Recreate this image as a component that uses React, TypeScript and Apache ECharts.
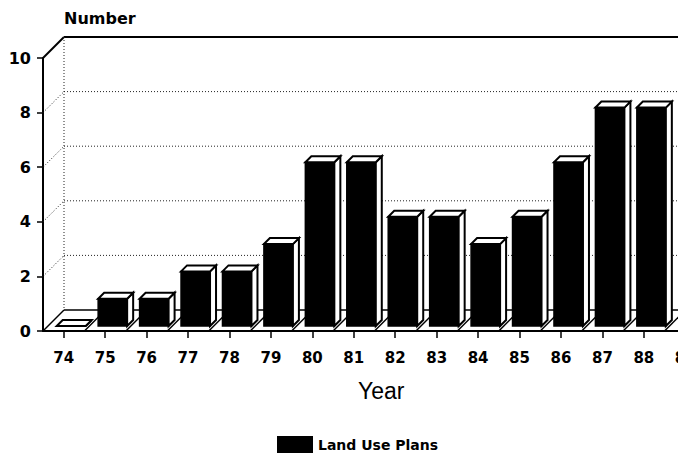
import React, { useEffect, useRef } from "react";
import * as echarts from "echarts";

const years = ["74", "75", "76", "77", "78", "79", "80", "81", "82", "83", "84", "85", "86", "87", "88", "89"];
const landUsePlans: (number | null)[] = [0, 1, 1, 2, 2, 3, 6, 6, 4, 4, 3, 4, 6, 8, 8, null];
const yTicks = [0, 2, 4, 6, 8, 10];
const seriesName = "Land Use Plans";

const DEPTH = 21;

export default function App() {
  const ref = useRef<HTMLDivElement>(null);
  useEffect(() => {
    if (!ref.current) return;
    const chart = echarts.init(ref.current, null, { renderer: "svg" });
    const boldFont = "DejaVu Sans";

    const frameRender = (params: any, api: any) => {
      const band = api.size([1, 0])[0];
      const [c0, y0] = api.coord([0, 0]);
      const xL = c0 - band / 2;
      const xR = api.coord([years.length - 1, 0])[0] + band / 2 + DEPTH + 40;
      const children: any[] = [];
      const dotted = { stroke: "#222", lineWidth: 1, lineDash: [1, 2] };
      const solid = { stroke: "#000", lineWidth: 2 };
      const top = yTicks[yTicks.length - 1];
      yTicks.forEach((v) => {
        const y = api.coord([0, v])[1];
        if (v === 0) return;
        const st = v === top ? solid : dotted;
        children.push({ type: "line", shape: { x1: xL, y1: y, x2: xL + DEPTH, y2: y - DEPTH }, style: st });
        children.push({ type: "line", shape: { x1: xL + DEPTH, y1: y - DEPTH, x2: xR, y2: y - DEPTH }, style: st });
      });
      const yTop = api.coord([0, top])[1];
      children.push({ type: "line", shape: { x1: xL + DEPTH, y1: yTop - DEPTH, x2: xL + DEPTH, y2: y0 - DEPTH }, style: dotted });
      children.push({ type: "line", shape: { x1: xL + DEPTH, y1: y0 - DEPTH, x2: xR, y2: y0 - DEPTH }, style: { stroke: "#000", lineWidth: 1.5 } });
      for (let i = 0; i <= years.length; i++) {
        const bx = xL + i * band;
        children.push({ type: "line", shape: { x1: bx, y1: y0, x2: bx + DEPTH, y2: y0 - DEPTH }, style: { stroke: "#000", lineWidth: 1.5 } });
      }
      return { type: "group", children };
    };

    const barRender = (params: any, api: any) => {
      const v = api.value(1);
      if (v === null || v === undefined || isNaN(v)) return null;
      const idx = api.value(0);
      const [cx, y0] = api.coord([idx, 0]);
      const yt = api.coord([idx, v])[1];
      const L = cx - 7, R = cx + 22, B = y0 - 5, T = yt - 5, d = 6;
      return {
        type: "group",
        children: [
          { type: "polygon", shape: { points: [[L, B], [R, B], [R, T], [L, T]] }, style: { fill: "#000", stroke: "#000", lineWidth: 1.5 } },
          { type: "polygon", shape: { points: [[R, T], [R + d, T - d], [R + d, B - d], [R, B]] }, style: { fill: "#fff", stroke: "#000", lineWidth: 2 } },
          { type: "polygon", shape: { points: [[L, T], [R, T], [R + d, T - d], [L + d, T - d]] }, style: { fill: "#fff", stroke: "#000", lineWidth: 2 } },
        ],
      };
    };

    chart.setOption({
      animation: false,
      backgroundColor: "#fff",
      title: {
        text: "Number",
        left: 64,
        top: 10,
        padding: 0,
        textStyle: { fontFamily: boldFont, fontWeight: "bold", fontSize: 16, color: "#000" },
      },
      legend: {
        data: [{ name: seriesName, icon: "rect" }],
        left: 277,
        top: 436,
        padding: 0,
        itemWidth: 36,
        itemHeight: 17,
        itemGap: 5,
        textStyle: { fontFamily: boldFont, fontWeight: "bold", fontSize: 14, color: "#000" },
      },
      grid: { left: 43, top: 58, height: 273, width: 663, outerBoundsMode: "none", containLabel: false },
      xAxis: {
        type: "category",
        data: years,
        boundaryGap: true,
        axisLine: { show: true, lineStyle: { color: "#000", width: 2 } },
        axisTick: { show: true, alignWithLabel: true, length: 7, lineStyle: { color: "#000", width: 1.5 } },
        axisLabel: { margin: 19, fontFamily: boldFont, fontWeight: "bold", fontSize: 15, color: "#000", interval: 0 },
        splitLine: { show: false },
      },
      yAxis: {
        type: "value",
        min: 0,
        max: 10,
        interval: 2,
        axisLine: { show: true, lineStyle: { color: "#000", width: 2 } },
        axisTick: { show: true, length: 6, lineStyle: { color: "#000", width: 1.5 } },
        axisLabel: { margin: 12, fontFamily: boldFont, fontWeight: "bold", fontSize: 16, color: "#000" },
        splitLine: { show: false },
      },
      graphic: [
        {
          type: "text",
          left: 358,
          top: 379,
          style: { text: "Year", font: "23px 'Liberation Sans', Arial, sans-serif", fill: "#000" },
        },
      ],
      series: [
        {
          type: "custom",
          name: "frame",
          renderItem: frameRender,
          data: [[0, 0]],
          silent: true,
          z: 1,
        },
        {
          type: "custom",
          name: seriesName,
          renderItem: barRender,
          itemStyle: { color: "#000" },
          data: landUsePlans.map((v, i) => [i, v]),
          z: 2,
        },
      ],
    });
    return () => chart.dispose();
  }, []);
  return <div ref={ref} style={{ width: 678, height: 462, position: "absolute", left: 0, top: 0 }} />;
}
